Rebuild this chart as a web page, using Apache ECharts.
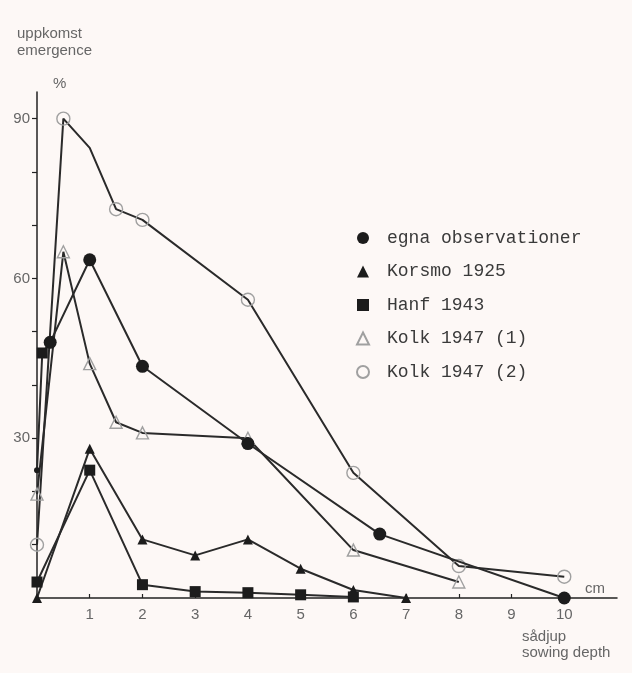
<!DOCTYPE html>
<html>
<head>
<meta charset="utf-8">
<script src="https://cdn.jsdelivr.net/npm/echarts@6/dist/echarts.min.js"></script>
<style>html,body{margin:0;padding:0;background:#fdf8f6;}#c{width:632px;height:673px;}</style>
</head>
<body>
<div id="c"></div>
<script>
// Data (sowing depth in cm, emergence in %)
const egna   = [[0,24],[0.1,46],[0.25,48],[1,63.5],[2,43.5],[4,29],[6.5,12],[10,0]];
const korsmo = [[0,0],[1,28],[2,11],[3,8],[4,11],[5,5.5],[6,1.5],[7,0]];
const hanf   = [[0,3],[1,24],[2,2.5],[3,1.2],[4,1],[5,0.6],[6,0.2]];
const kolk1  = [[0,19.5],[0.5,65],[1,44],[1.5,33],[2,31],[4,30],[6,9],[8,3]];
const kolk2  = [[0,10],[0.5,90],[1,84.5],[1.5,73],[2,71],[4,56],[6,23.5],[8,6],[10,4]];
const seriesNames = ['egna observationer','Korsmo 1925','Hanf 1943','Kolk 1947 (1)','Kolk 1947 (2)'];
const xTicks = [1,2,3,4,5,6,7,8,9,10];
const yTicks = [10,20,30,40,50,60,70,80,90];
const yLabels = [30,60,90];

const LINE = '#2a2a2a', FILL = '#1c1c1c', OPEN = '#a0a0a0';
const chart = echarts.init(document.getElementById('c'), null, {renderer:'canvas'});

function lineSeries(name, data, symbol, size, open){
  return {
    type:'line', name, data, symbol, symbolSize:size, clip:false,
    showAllSymbol:true,
    lineStyle:{color:LINE, width:2},
    itemStyle: open ? {color:'rgba(0,0,0,0)', borderColor:OPEN, borderWidth:1.4}
                    : {color:FILL, borderColor:FILL, borderWidth:0},
    emphasis:{disabled:true}, z: open?3:4
  };
}

const egnaData = egna.map((p,i)=> i===0 ? {value:p, symbolSize:6} : (i===1 ? {value:p, symbol:'rect', symbolSize:11} : p));
const kolk2Data = kolk2.map((p,i)=> i===2 ? {value:p, symbol:'none'} : p);

const option = {
  backgroundColor:'#fdf8f6',
  animation:false,
  grid:{left:37, right:15, top:92, bottom:75},
  xAxis:{
    type:'value', min:0, max:11, interval:1,
    axisLine:{show:true, onZero:false, lineStyle:{color:'#222', width:1.5}},
    axisTick:{show:true, inside:true, length:4, customValues:xTicks, lineStyle:{color:'#222', width:1.2}},
    axisLabel:{customValues:xTicks, color:'#666', fontSize:15, margin:9, fontFamily:'Liberation Sans'},
    splitLine:{show:false}
  },
  yAxis:{
    type:'value', min:0, max:95, interval:10,
    axisLine:{show:true, lineStyle:{color:'#222', width:1.5}},
    axisTick:{show:true, length:5, customValues:yTicks, lineStyle:{color:'#222', width:1.2}},
    axisLabel:{customValues:yLabels, color:'#666', fontSize:15, margin:7, fontFamily:'Liberation Sans'},
    splitLine:{show:false}
  },
  legend:{
    orient:'vertical', left:351, top:224, itemWidth:12, itemHeight:12, itemGap:15.5,
    textStyle:{fontFamily:'Liberation Mono', fontSize:18, color:'#3a3a3a', padding:[0,0,0,13]},
    data:[
      {name:seriesNames[0], icon:'circle'},
      {name:seriesNames[1], icon:'triangle'},
      {name:seriesNames[2], icon:'rect'},
      {name:seriesNames[3], icon:'triangle'},
      {name:seriesNames[4], icon:'circle'}
    ],
    selectedMode:false
  },
  graphic:[
    {type:'text', left:17, top:26, style:{text:'uppkomst', fill:'#666', font:'15px "Liberation Sans"'}},
    {type:'text', left:17, top:43, style:{text:'emergence', fill:'#666', font:'15px "Liberation Sans"'}},
    {type:'text', left:53, top:76, style:{text:'%', fill:'#666', font:'15px "Liberation Sans"'}},
    {type:'text', left:585, top:581, style:{text:'cm', fill:'#666', font:'15px "Liberation Sans"'}},
    {type:'text', left:522, top:629, style:{text:'sådjup', fill:'#666', font:'15px "Liberation Sans"'}},
    {type:'text', left:522, top:645, style:{text:'sowing depth', fill:'#666', font:'15px "Liberation Sans"'}}
  ],
  series:[
    lineSeries(seriesNames[0], egnaData, 'circle', 13, false),
    lineSeries(seriesNames[1], korsmo, 'triangle', 10, false),
    lineSeries(seriesNames[2], hanf, 'rect', 11, false),
    lineSeries(seriesNames[3], kolk1, 'triangle', 12, true),
    lineSeries(seriesNames[4], kolk2Data, 'circle', 13, true)
  ]
};
chart.setOption(option);
</script>
</body>
</html>
